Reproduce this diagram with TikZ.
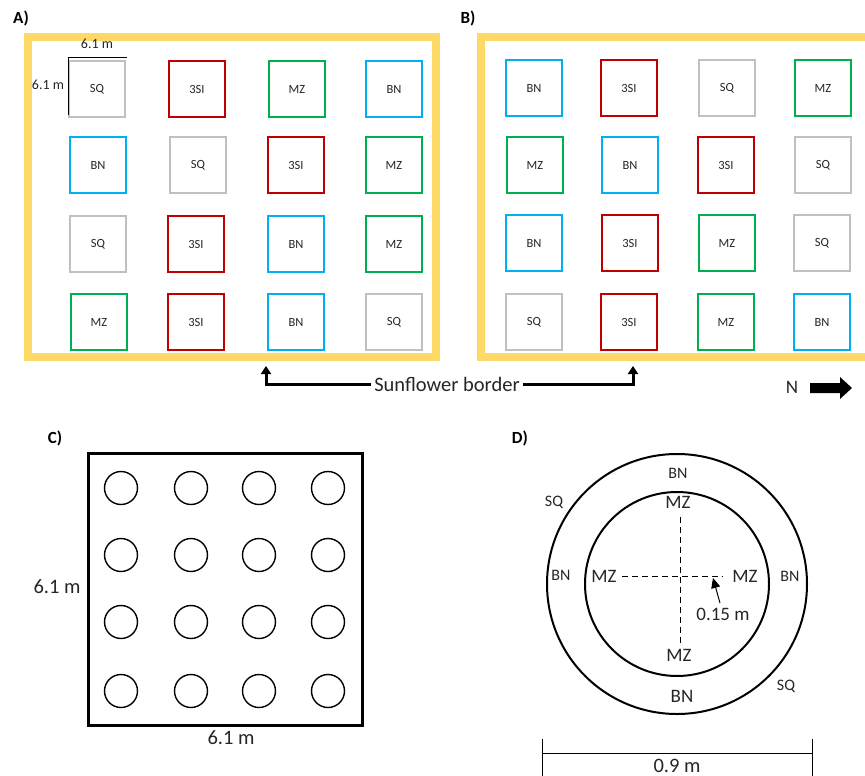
\documentclass[tikz,border=0pt]{standalone}
\usepackage{fontspec}
\setmainfont{Carlito}
\usetikzlibrary{arrows.meta}
\definecolor{ybord}{HTML}{FFD966}
\definecolor{cred}{HTML}{C00000}
\definecolor{cgreen}{HTML}{00B050}
\definecolor{cblue}{HTML}{00B0F0}
\definecolor{cgray}{HTML}{C0C0C0}
\definecolor{txt}{HTML}{262626}
\tikzset{
  plotbox/.style={draw, line width=2pt, minimum size=56pt, inner sep=0pt, text=txt, font=\fontsize{12.5}{15}\selectfont},
  SQ/.style={plotbox, draw=cgray},
  SI/.style={plotbox, draw=cred},
  MZ/.style={plotbox, draw=cgreen},
  BN/.style={plotbox, draw=cblue},
  border/.style={draw=ybord, line width=8pt},
  lbl/.style={font=\bfseries\fontsize{17}{20}\selectfont},
  big/.style={font=\fontsize{20.5}{24}\selectfont, inner sep=1pt, text=txt},
  mid/.style={font=\fontsize{19}{22}\selectfont, inner sep=1pt, text=txt},
  small/.style={font=\fontsize{16}{18}\selectfont, inner sep=1pt, text=txt},
  tiny/.style={font=\fontsize{14}{16}\selectfont, inner sep=1pt, text=txt},
  hole/.style={draw, circle, line width=1.4pt, minimum size=33pt, inner sep=0pt},
  pointer/.style={line width=3pt, -{Triangle[width=10pt,length=8pt]}},
}
\begin{document}
\begin{tikzpicture}[x=1pt,y=-1pt]
\clip (0,0) rectangle (865,776);
\useasboundingbox (0,0) rectangle (865,776);
\fill[white] (0,0) rectangle (865,776);
% Panel labels
\node[lbl] (lA) at (21,18) {A)};
\node[lbl] (lB) at (468,18) {B)};
\node[lbl] (lC) at (55,438) {C)};
\node[lbl] (lD) at (520,438) {D)};
% borders
\draw[border] (28,37) rectangle (436,357);
\draw[border] (481,37) rectangle (895,357);
% Panel A
\node[SQ] (a11) at (97,89) {SQ};
\node[SI] (a12) at (197,89) {3SI};
\node[MZ] (a13) at (297,89) {MZ};
\node[BN] (a14) at (394,89) {BN};
\node[BN] (a21) at (98,165) {BN};
\node[SQ] (a22) at (198,165) {SQ};
\node[SI] (a23) at (296,165) {3SI};
\node[MZ] (a24) at (394,165) {MZ};
\node[SQ] (a31) at (98,244) {SQ};
\node[SI] (a32) at (196,244) {3SI};
\node[BN] (a33) at (296,244) {BN};
\node[MZ] (a34) at (394,244) {MZ};
\node[MZ] (a41) at (99,322) {MZ};
\node[SI] (a42) at (196,322) {3SI};
\node[BN] (a43) at (296,322) {BN};
\node[SQ] (a44) at (394,322) {SQ};
% dimension marks on A
\coordinate (dimc) at (68,58);
\coordinate (dimr) at (127,58);
\coordinate (dimb) at (68,115);
\draw[line width=1pt] (dimr) -- (dimc) -- (dimb);
\node[tiny] (dtop) at (97,44) {6.1 m};
\node[tiny] (dleft) at (48,85) {6.1 m};
% Panel B
\node[BN] (b11) at (534,88) {BN};
\node[SI] (b12) at (629,88) {3SI};
\node[SQ] (b13) at (727,88) {SQ};
\node[MZ] (b14) at (823,88) {MZ};
\node[MZ] (b21) at (535,165) {MZ};
\node[BN] (b22) at (630,165) {BN};
\node[SI] (b23) at (726,165) {3SI};
\node[SQ] (b24) at (823,165) {SQ};
\node[BN] (b31) at (534,243) {BN};
\node[SI] (b32) at (630,243) {3SI};
\node[MZ] (b33) at (727,243) {MZ};
\node[SQ] (b34) at (822,243) {SQ};
\node[SQ] (b41) at (534,322) {SQ};
\node[SI] (b42) at (629,322) {3SI};
\node[MZ] (b43) at (726,322) {MZ};
\node[BN] (b44) at (822,322) {BN};
% Sunflower border
\node[big, inner sep=3pt] (sf) at (447,384) {Sunflower border};
\coordinate (sfL) at (266,366);
\coordinate (sfR) at (633,366);
\draw[pointer] (sf.west) -| (sfL);
\draw[pointer] (sf.east) -| (sfR);
% North arrow
\node[mid] (north) at (792,387) {N};
\fill (810,383) -- (840,383) -- (840,377) -- (852,388) -- (840,399) -- (840,393) -- (810,393) -- cycle;
% Panel C
\draw[line width=3pt] (88,453) rectangle (362,725);
\foreach \r/\yy in {1/488,2/555,3/622,4/691}{
  \foreach \c/\xx in {1/121,2/191,3/259,4/328}{
    \node[hole] (h\r\c) at (\xx,\yy) {};
  }
}
\node[big] (cleft) at (57,587) {6.1 m};
\node[big] (cbot) at (231,738) {6.1 m};
% Panel D
\coordinate (dc) at (677,584);
\draw[line width=2pt] (dc) circle[radius=130];
\draw[line width=2pt] (dc) circle[radius=92];
\node[mid] (mzt) at (678,502) {MZ};
\node[mid] (mzl) at (604,576) {MZ};
\node[mid] (mzr) at (745,576) {MZ};
\node[mid] (mzb) at (679,655) {MZ};
\node[small] (bnt) at (678,473) {BN};
\node[small] (bnl) at (561,575) {BN};
\node[small] (bnr) at (790,576) {BN};
\node[mid] (bnb) at (682,696) {BN};
\node[small] (sqt) at (554,502) {SQ};
\node[small] (sqb) at (786,686) {SQ};
\coordinate (hl) at (622,576);
\coordinate (hr) at (723,576);
\coordinate (vt) at (680,517);
\coordinate (vb) at (680,645);
\draw[line width=1pt, dash pattern=on 6pt off 4pt] (hl) -- (hr);
\draw[line width=1pt, dash pattern=on 6pt off 4pt] (vt) -- (vb);
\node[mid] (r15) at (723,614) {0.15 m};
\coordinate (rtip) at (713,578);
\draw[line width=1pt, -{Triangle[width=9pt,length=10pt]}] (720,603) -- (rtip);
% scale bar
\coordinate (sbl) at (542,753);
\coordinate (sbr) at (812,753);
\draw[line width=1pt] (sbl) -- (sbr);
\draw[line width=1pt] (542,739) -- (542,776);
\draw[line width=1pt] (812,739) -- (812,776);
\node[big] (sblab) at (677,766) {0.9 m};
\end{tikzpicture}
\end{document}
